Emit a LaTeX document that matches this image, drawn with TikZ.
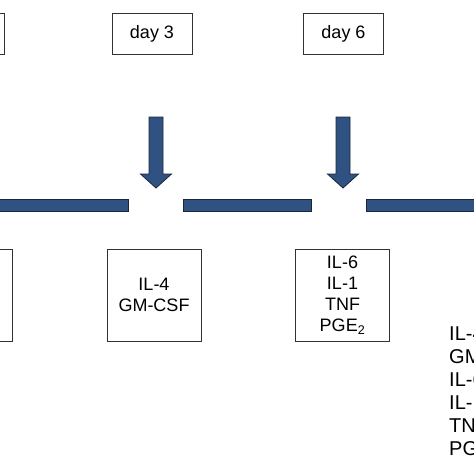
\documentclass[tikz,border=0pt]{standalone}
\usepackage{fontspec}
\setmainfont{Liberation Sans}
\usepackage{tikz}
\usetikzlibrary{positioning}
\definecolor{barblue}{RGB}{47,82,130}
\definecolor{bardark}{RGB}{28,38,58}
\definecolor{boxline}{RGB}{50,50,50}

\begin{document}
\begin{tikzpicture}[x=1pt,y=-1pt,
  daybox/.style={draw=boxline, line width=1pt, minimum width=80pt, minimum height=41pt, inner sep=0pt, font=\fontsize{18}{21}\selectfont},
  cytobox/.style={draw=boxline, line width=1pt, minimum width=94pt, minimum height=92pt, inner sep=0pt, align=center, font=\fontsize{18}{21}\selectfont},
  bar/.style={draw=bardark, fill=barblue, line width=0.8pt, minimum height=12pt, inner sep=0pt},
  blockarrow/.style={draw=bardark, fill=barblue, line width=0.8pt}]
  \useasboundingbox (0,0) rectangle (474,474);
  \clip (0,0) rectangle (474,474);
  % day boxes
  \node [daybox] (d0) at (-36,33.5) {};
  \node [daybox] (d3) at (152,33.5) {day 3};
  \node [daybox] (d6) at (343.5,33.5) {day 6};
  % time line
  \node [bar, minimum width=228pt] (b1) at (14,205.5) {};
  \node [bar, minimum width=128pt] (b2) at (247,205.5) {};
  \node [bar, minimum width=234pt] (b3) at (483,205.5) {};
  % arrows
  \coordinate (a3) at (156,117);
  \coordinate (a6) at (343,117);
  \draw [blockarrow] (a3) ++(-7,0) -- ++(14,0) -- ++(0,57) -- ++(8.5,0) -- ++(-15.5,14) -- ++(-15.5,-14) -- ++(8.5,0) -- cycle;
  \draw [blockarrow] (a6) ++(-7,0) -- ++(14,0) -- ++(0,57) -- ++(8.5,0) -- ++(-15.5,14) -- ++(-15.5,-14) -- ++(8.5,0) -- cycle;
  % cytokine boxes
  \node [cytobox] (c0) at (-35,295) {};
  \node [cytobox] (c3) at (154,295) {IL-4\\GM-CSF};
  \node [cytobox] (c6) at (342.5,295) {IL-6\\IL-1\\TNF\\PGE\textsubscript{2}};
  \node [anchor=west, align=left, inner sep=0pt, font=\fontsize{20}{23}\selectfont] (mix) at (449,393) {IL-4\\GM-CSF\\IL-6\\IL-1\\TNF\\PGE\textsubscript{2}};
\end{tikzpicture}
\end{document}
